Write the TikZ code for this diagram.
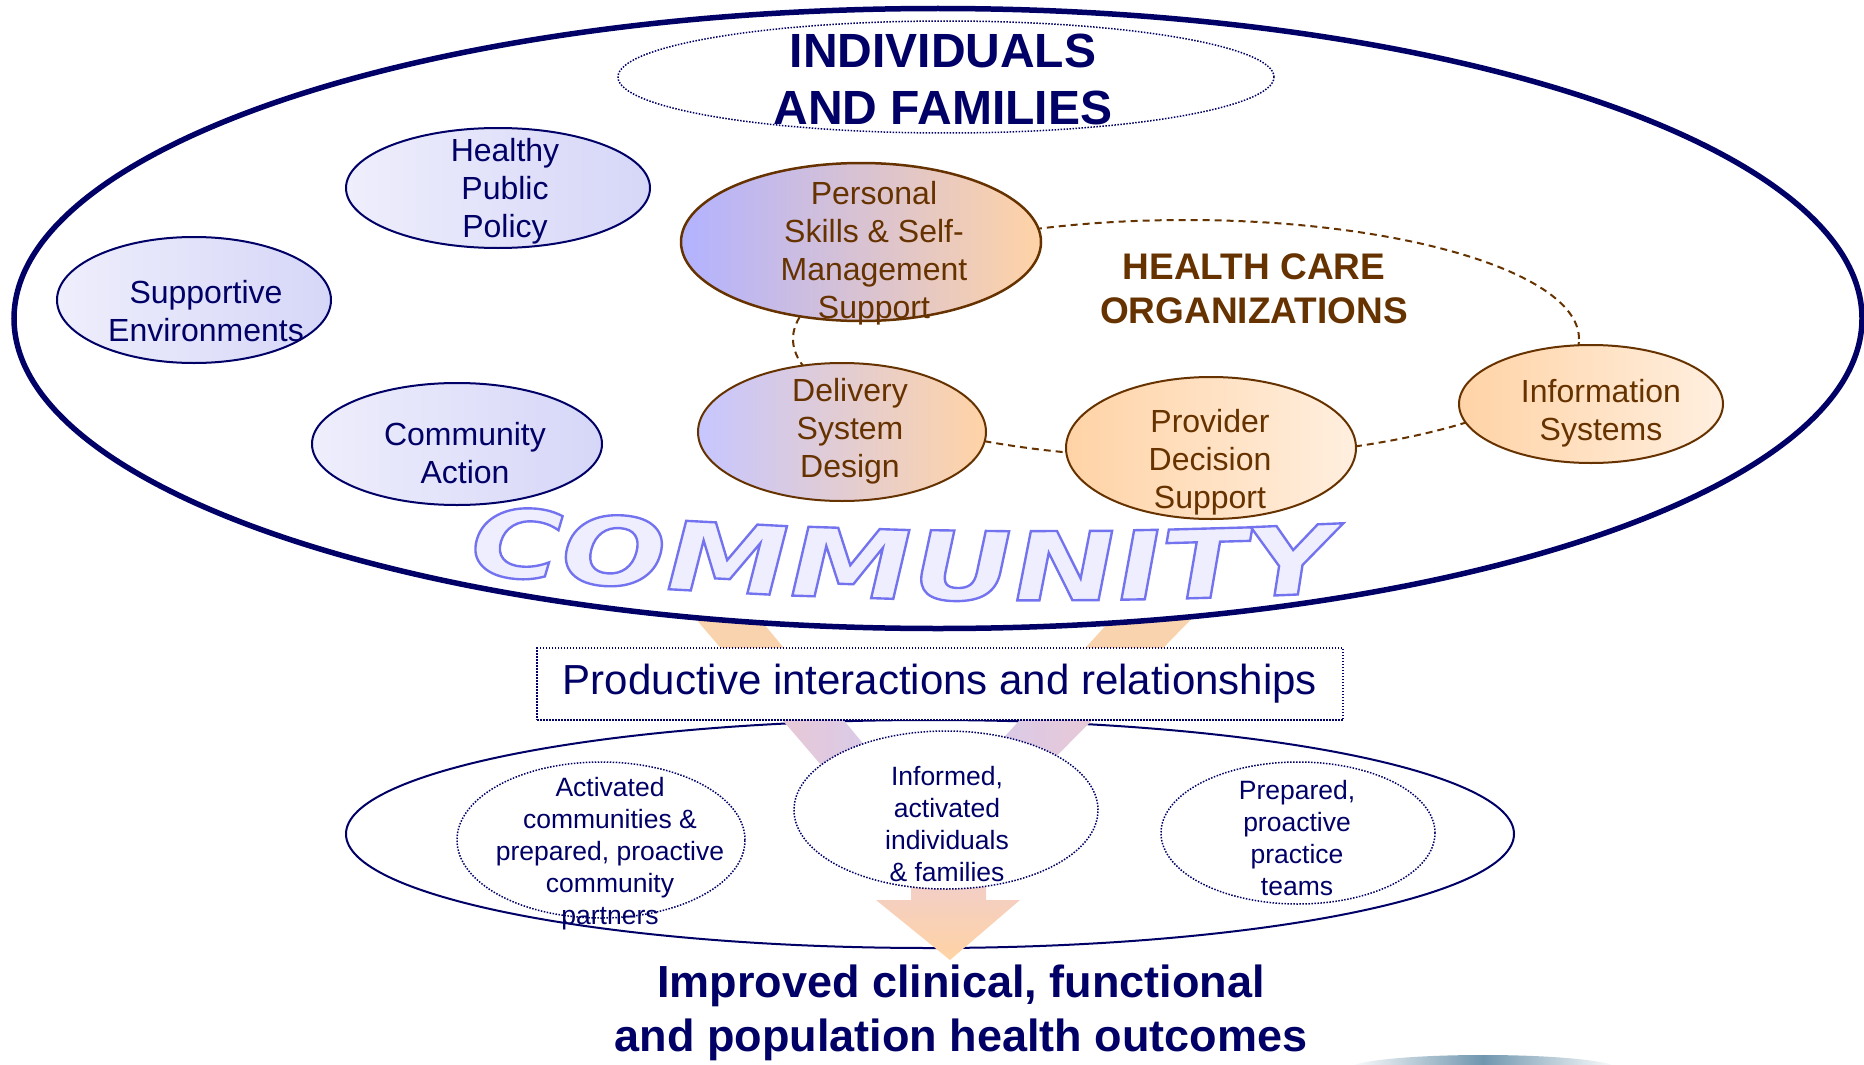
\documentclass[tikz,border=0pt]{standalone}
\usepackage{fontspec}
\setmainfont{Liberation Sans}
\newfontfamily\commfont[FakeStretch=1.31,FakeSlant=0.2,FakeBold=2.5]{DejaVu Sans}
\usetikzlibrary{shapes.geometric,decorations.text}
\definecolor{navy}{HTML}{000066}
\definecolor{brn}{HTML}{663300}
\definecolor{lavL}{HTML}{EEEEFC}
\definecolor{lavR}{HTML}{D6D6F8}
\definecolor{psL}{HTML}{B2B2FF}
\definecolor{dsdL}{HTML}{C6C6FF}
\definecolor{peach}{HTML}{FFD3A6}
\definecolor{peachL}{HTML}{FFEFDF}
\definecolor{bandP}{HTML}{F9D3AD}
\definecolor{bandPk}{HTML}{EAC9D2}
\definecolor{bandLv}{HTML}{D4CAF0}
\definecolor{arrTop}{HTML}{EFCDD2}
\definecolor{arrBot}{HTML}{FFD3A4}
\definecolor{swoosh}{HTML}{7096AE}
\definecolor{commfill}{HTML}{EEEEFF}
\newcommand\commstyle{\commfont\bfseries\fontsize{95}{95}\selectfont\color{commfill}\special{pdf:literal direct 0.45 0.45 0.94 RG}}
\begin{document}
\begin{tikzpicture}[x=1pt,y=1pt,
  ell/.style={shape=ellipse, inner sep=0pt, outer sep=0pt},
  lavnode/.style={ell, draw=navy, line width=2pt, left color=lavL, right color=lavR},
  hcnode/.style={ell, draw=brn, line width=2pt},
  dotell/.style={ell, draw=navy, line width=1.5pt, dash pattern=on 1.5pt off 1.5pt},
  lavtext/.style={text=navy, align=center, inner sep=0pt, font=\fontsize{32}{38}\selectfont},
  hctext/.style={text=brn, align=center, inner sep=0pt, font=\fontsize{32}{38}\selectfont},
  smalltext/.style={text=navy, align=center, inner sep=0pt, font=\fontsize{26.5}{32}\selectfont}]
\useasboundingbox (0,0) rectangle (1864,-1065);

% lower oval
\node[ell, draw=navy, line width=2pt, minimum width=1168, minimum height=228] (outcomes) at (930,-834) {};

% bands
\fill[bandP] (679.5,-600) -- (744,-600) -- (818.8,-690) -- (756.7,-690) -- cycle;
\fill[bandP] (1129,-600) -- (1210,-600) -- (1122,-690) -- (1047,-690) -- cycle;
\shade[left color=bandPk, right color=bandLv] (765.3,-700) -- (827,-700) -- (901.6,-790) -- (842.5,-790) -- cycle;
\shade[left color=bandLv, right color=bandPk] (1038,-700) -- (1112,-700) -- (1023,-790) -- (956,-790) -- cycle;

% down arrow
\shade[top color=arrTop, bottom color=arrBot] (911,-860) -- (986,-860) -- (986,-900) -- (1020,-900) -- (950,-960) -- (876,-900) -- (911,-900) -- cycle;

% community ellipse
\node[ell, draw=navy, fill=white, line width=5.5pt, minimum width=1848, minimum height=620] (comm) at (938,-318.5) {};

\node[dotell, minimum width=656, minimum height=112] (indiv) at (946,-77) {};
\node[text=navy, align=center, inner sep=0pt, font=\bfseries\fontsize{48}{57}\selectfont] (indiv-t) at (943,-79) {INDIVIDUALS\\AND FAMILIES};

% health care organizations ring
\node[ell, draw=brn, line width=2pt, dash pattern=on 7pt off 5pt, minimum width=786, minimum height=238] (hco) at (1186,-339) {};
\node[text=brn, align=center, inner sep=0pt, font=\bfseries\fontsize{37}{44}\selectfont] (hco-t) at (1254,-289) {HEALTH CARE\\ORGANIZATIONS};

% community nodes
\node[lavnode, minimum width=304, minimum height=120] (hpp) at (498,-188) {};
\node[lavtext] (hpp-t) at (505,-191) {Healthy\\Public\\Policy};
\node[lavnode, minimum width=274, minimum height=126] (se) at (194,-300) {};
\node[lavtext] (se-t) at (206,-311) {Supportive\\Environments};
\node[lavnode, minimum width=290, minimum height=122] (ca) at (457,-444) {};
\node[lavtext] (ca-t) at (465,-453) {Community\\Action};

% health system nodes
\node[hcnode, line width=2.5pt, left color=psL, right color=peach, minimum width=360, minimum height=158] (ps) at (861,-242) {};
\node[hctext] (ps-t) at (874,-253) {Personal\\Skills \& Self-\\Management\\Support};
\node[hcnode, left color=dsdL, right color=peach, minimum width=288, minimum height=138] (dsd) at (842,-432) {};
\node[hctext] (dsd-t) at (850,-431) {Delivery\\System\\Design};
\node[hcnode, left color=peach, right color=peachL, minimum width=290, minimum height=142] (pds) at (1211,-448) {};
\node[hctext] (pds-t) at (1210,-462) {Provider\\Decision\\Support};
\node[hcnode, left color=peach, right color=peachL, minimum width=264, minimum height=118] (is) at (1591,-404) {};
\node[hctext] (is-t) at (1601,-413) {Information\\Systems};

% COMMUNITY word art
\path[decorate, decoration={text along path, text align={center}, text={|\commstyle|COMMUNITY}}]
  (416,-568.1) .. controls (736,-601.4) and (1056,-608.9) .. (1376,-590.5);

% productive interactions
\node[draw=navy, fill=white, line width=1.5pt, dash pattern=on 1.5pt off 1.5pt, minimum width=806, minimum height=72, inner sep=0pt, text=navy, font=\fontsize{42}{50}\selectfont] (pir) at (940,-684) {Productive interactions and relationships};

% outcome ellipses
\node[dotell, minimum width=288, minimum height=156] (act) at (601,-840) {};
\node[smalltext] (act-t) at (610,-854) {Activated\\communities \&\\prepared, proactive\\community\\partners};
\node[dotell, fill=white, minimum width=304, minimum height=158] (inf) at (946,-810) {};
\node[smalltext] (inf-t) at (947,-824) {Informed,\\activated\\individuals\\\& families};
\node[dotell, minimum width=274, minimum height=142] (prep) at (1298,-833) {};
\node[smalltext] (prep-t) at (1297,-838) {Prepared,\\proactive\\practice\\teams};

% outcomes text
\node[text=navy, align=center, inner sep=0pt, font=\bfseries\fontsize{45}{54}\selectfont] (out-t) at (961,-1013) {Improved clinical, functional\\and population health outcomes};

% swoosh
\shade[left color=white, right color=white, middle color=swoosh] (1483,-1069) ellipse [x radius=135, y radius=14];
\end{tikzpicture}
\end{document}
